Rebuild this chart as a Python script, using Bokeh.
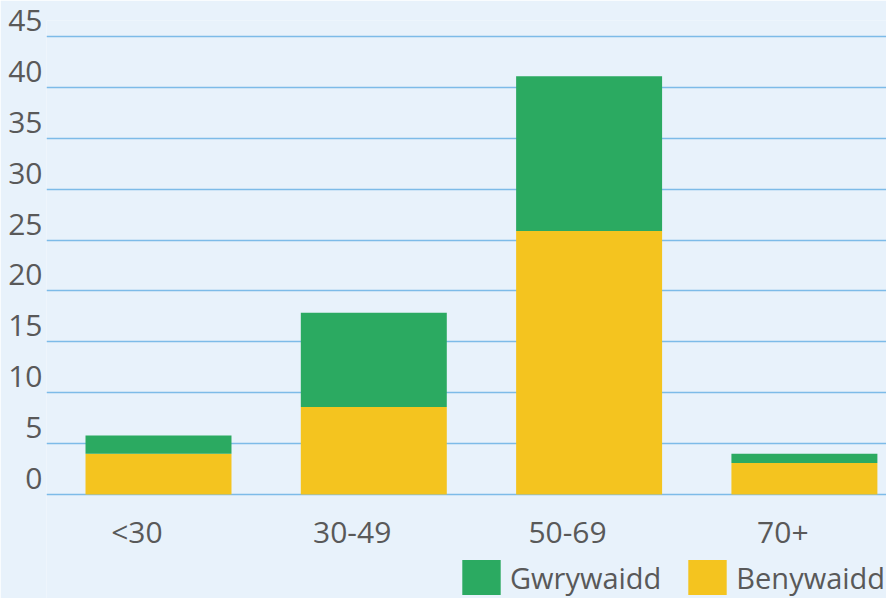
from bokeh.plotting import figure
from bokeh.models import (Range1d, FixedTicker, LinearAxis, Legend, LegendItem,
                          ColumnDataSource)
from bokeh.transform import dodge
from bokeh.embed import file_html
from bokeh.resources import INLINE

# ---- data ----
categories = ["<30", "30-49", "50-69", "70+"]
benywaidd = [4.0, 8.6, 25.9, 3.1]     # female (yellow, bottom)
gwrywaidd = [1.8, 9.25, 15.2, 0.9]    # male (green, top)
y_ticks = [0, 5, 10, 15, 20, 25, 30, 35, 40, 45]

xpos = list(range(len(categories)))
source = ColumnDataSource(dict(x=xpos, Benywaidd=benywaidd, Gwrywaidd=gwrywaidd))

BG = "#E8F2FB"
GREEN = "#2BAA61"
YELLOW = "#F4C41F"
TEXT = "#595959"
GRID = "#7DBBE8"
FONT = "Open Sans"

p = figure(width=886, height=598, output_backend="svg", toolbar_location=None,
           x_range=Range1d(-0.4199, 3.4816), y_range=Range1d(-10.216, 46.57),
           y_axis_location=None,
           min_border_left=46, min_border_right=0, min_border_top=20,
           min_border_bottom=0)
p.background_fill_color = BG
p.border_fill_color = BG
p.outline_line_color = None

# grid
p.xgrid.visible = False
p.ygrid.ticker = FixedTicker(ticks=y_ticks)
p.ygrid.grid_line_color = GRID
p.ygrid.grid_line_width = 1.5

# bars
rs = p.vbar_stack(["Benywaidd", "Gwrywaidd"], x=dodge("x", 0.1003), width=0.678,
                  source=source, color=[YELLOW, GREEN], line_color=None)

# x axis, pinned at y = 0
xa = p.xaxis[0]
xa.fixed_location = 0
xa.ticker = FixedTicker(ticks=xpos)
xa.major_label_overrides = {i: c for i, c in zip(xpos, categories)}
xa.axis_line_color = None
xa.major_tick_line_color = None
xa.minor_tick_line_color = None
xa.major_tick_out = 0
xa.major_tick_in = 0
xa.major_label_standoff = 16
xa.major_label_text_font = FONT
xa.major_label_text_font_size = "30px"
xa.major_label_text_color = TEXT

# y axis (labels sit just above their gridlines)
p.extra_y_ranges = {"lbl": Range1d(-11.786, 45)}
ya = LinearAxis(y_range_name="lbl", ticker=FixedTicker(ticks=y_ticks))
ya.axis_line_color = None
ya.major_tick_line_color = None
ya.minor_tick_line_color = None
ya.major_tick_out = 0
ya.major_tick_in = 0
ya.major_label_standoff = 4
ya.major_label_text_font = FONT
ya.major_label_text_font_size = "30px"
ya.major_label_text_color = TEXT
p.add_layout(ya, "left")

legend = Legend(items=[LegendItem(label="Gwrywaidd", renderers=[rs[1]]),
                       LegendItem(label="Benywaidd", renderers=[rs[0]])],
                orientation="horizontal", location=(411, -1),
                glyph_width=48, glyph_height=44, label_standoff=5, spacing=22,
                padding=0, margin=0, border_line_color=None,
                background_fill_alpha=0, label_text_font=FONT,
                label_text_font_size="29px", label_text_color=TEXT,
                label_height=44)
p.add_layout(legend, "center")

open("out.html", "w").write(file_html(p, INLINE))
